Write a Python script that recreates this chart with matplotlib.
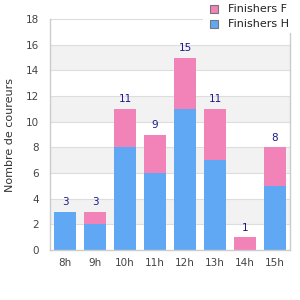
import matplotlib
matplotlib.use("Agg")
import matplotlib.pyplot as plt
from matplotlib.patches import Rectangle

categories = ["8h", "9h", "10h", "11h", "12h", "13h", "14h", "15h"]
finishers_h = [3, 2, 8, 6, 11, 7, 0, 5]
finishers_f = [0, 1, 3, 3, 4, 4, 1, 3]
totals = [h + f for h, f in zip(finishers_h, finishers_f)]

blue = "#60A8F4"
pink = "#F283B9"

fig = plt.figure(figsize=(3, 3), dpi=100)
ax = fig.add_axes([50/300, 1-250/300, 240/300, 231/300])

ax.set_ylim(0, 18)
ax.set_xlim(-0.5, len(categories) - 0.5)
for y0 in range(2, 18, 4):
    ax.axhspan(y0, y0 + 2, color="#F2F2F2", zorder=0, lw=0)
for y in range(2, 19, 2):
    ax.axhline(y, color="#DDDDDD", lw=0.8, zorder=1, clip_on=False)

x = list(range(len(categories)))
w = 0.73
ax.bar(x, finishers_h, width=w, color=blue, zorder=2, label="Finishers H")
ax.bar(x, finishers_f, width=w, bottom=finishers_h, color=pink, zorder=2, label="Finishers F")
for xi, t in zip(x, totals):
    ax.text(xi, t + 0.35, str(t), ha="center", va="bottom", fontsize=7.5, color="#1A1A8C")

ax.set_xticks(x)
ax.set_xticklabels(categories)
ax.set_yticks(range(0, 19, 2))
ax.tick_params(length=0, labelsize=7.5, colors="#444444", pad=6)
ax.tick_params(axis="y", pad=8)
for s in ["left", "right", "bottom"]:
    ax.spines[s].set_color("#CCCCCC")
    ax.spines[s].set_linewidth(1)
ax.spines["top"].set_visible(False)
ax.set_ylabel("Nombre de coureurs", fontsize=8, color="#333333", labelpad=8)

# legend outside at top right
fig.patches.append(Rectangle((203/300, 1-33/300), 97/300, 33/300, transform=fig.transFigure,
                             facecolor="white", edgecolor="none", zorder=5))
items = [("Finishers F", pink, 9), ("Finishers H", blue, 24)]
for lab, col, yp in items:
    fig.patches.append(Rectangle((210/300, 1-(yp+4)/300), 8/300, 8/300, transform=fig.transFigure,
                                 facecolor=col, edgecolor="#777777", lw=0.8, zorder=6))
    fig.text(228/300, 1-yp/300, lab, fontsize=8, color="#222222", va="center", ha="left", zorder=7)

fig.savefig("out.png", dpi=100)
